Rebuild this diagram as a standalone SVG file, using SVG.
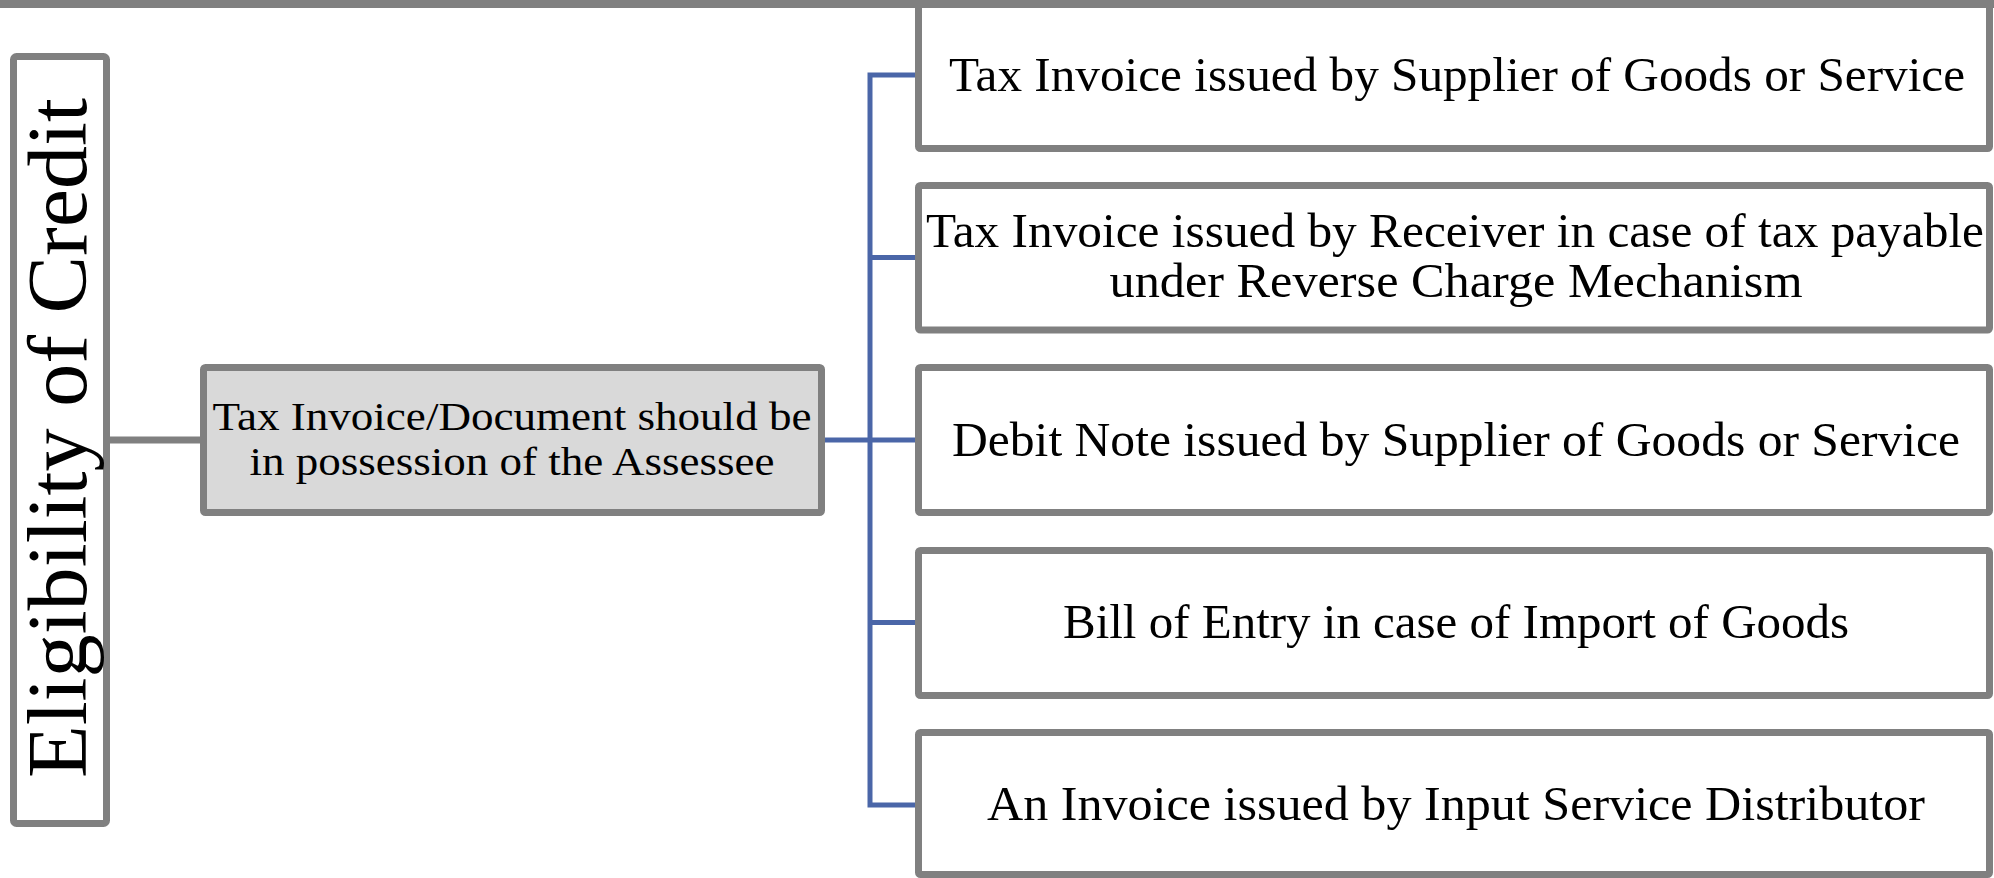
<svg xmlns="http://www.w3.org/2000/svg" width="1994" height="878" viewBox="0 0 1994 878">
<style>
.box{fill:#ffffff;stroke:#808080;stroke-width:7}
.mid{fill:#d9d9d9;stroke:#808080;stroke-width:7}
.t{font-family:"Liberation Serif","Times New Roman",serif;fill:#000;text-anchor:middle}
.c{font-size:48px}
.m{font-size:40px}
.blue{fill:none;stroke:#4a66a8;stroke-width:5}
.gray{fill:none;stroke:#808080;stroke-width:7}
</style>
<rect x="0" y="0" width="1994" height="878" fill="#ffffff"/>
<g id="connectors">
<line class="gray" x1="110" y1="440" x2="200" y2="440"/>
<line class="blue" x1="825" y1="440" x2="870" y2="440"/>
<polyline class="blue" points="915,75 870,75 870,805 915,805"/>
<line class="blue" x1="870" y1="257.5" x2="915" y2="257.5"/>
<line class="blue" x1="870" y1="440" x2="915" y2="440"/>
<line class="blue" x1="870" y1="622.5" x2="915" y2="622.5"/>
</g>
<g id="child1">
<rect class="box" x="918.5" y="-1" width="1071" height="149.5" rx="2"/>
<text class="t c" x="1457" y="91" textLength="1016" lengthAdjust="spacingAndGlyphs">Tax Invoice issued by Supplier of Goods or Service</text>
</g>
<rect id="topbar" x="0" y="0" width="1994" height="8" fill="#808080"/>
<g id="left">
<rect class="box" x="13.5" y="56.5" width="93" height="767" rx="3"/>
<text class="t" font-size="85" transform="translate(86,438) rotate(-90)" x="0" y="0" textLength="680" lengthAdjust="spacingAndGlyphs">Eligibility of Credit</text>
</g>
<g id="middle">
<rect class="mid" x="203.5" y="367.5" width="618" height="145" rx="2"/>
<text class="t m" x="512" y="430" textLength="599" lengthAdjust="spacingAndGlyphs">Tax Invoice/Document should be</text>
<text class="t m" x="512" y="475" textLength="525" lengthAdjust="spacingAndGlyphs">in possession of the Assessee</text>
</g>
<g id="child2">
<rect class="box" x="918.5" y="185.5" width="1071" height="144.5" rx="2"/>
<text class="t c" x="1455" y="247" textLength="1058" lengthAdjust="spacingAndGlyphs">Tax Invoice issued by Receiver in case of tax payable</text>
<text class="t c" x="1456" y="297" textLength="693" lengthAdjust="spacingAndGlyphs">under Reverse Charge Mechanism</text>
</g>
<g id="child3">
<rect class="box" x="918.5" y="367.5" width="1071" height="145" rx="2"/>
<text class="t c" x="1456" y="456" textLength="1008" lengthAdjust="spacingAndGlyphs">Debit Note issued by Supplier of Goods or Service</text>
</g>
<g id="child4">
<rect class="box" x="918.5" y="550.5" width="1071" height="145" rx="2"/>
<text class="t c" x="1456" y="638" textLength="786" lengthAdjust="spacingAndGlyphs">Bill of Entry in case of Import of Goods</text>
</g>
<g id="child5">
<rect class="box" x="918.5" y="732.5" width="1071" height="142" rx="2"/>
<text class="t c" x="1456" y="820" textLength="938" lengthAdjust="spacingAndGlyphs">An Invoice issued by Input Service Distributor</text>
</g>
</svg>
